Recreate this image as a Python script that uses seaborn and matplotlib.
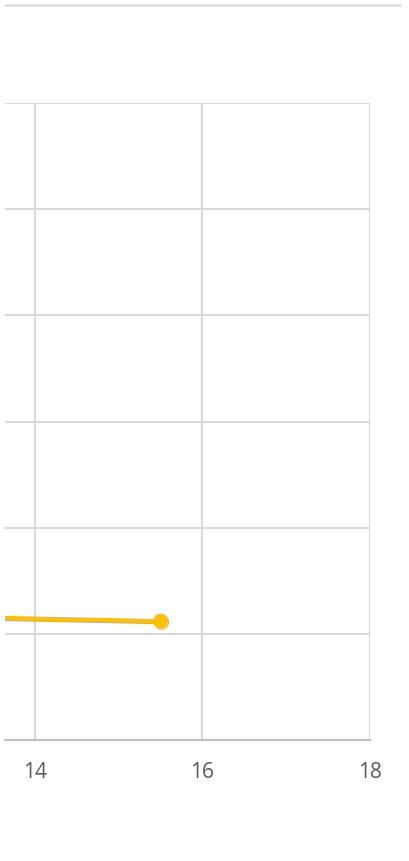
import pandas as pd
import seaborn as sns
import matplotlib.pyplot as plt
import matplotlib.patheffects as pe
from matplotlib.lines import Line2D

# series values (left part of the line runs off the visible area)
x_vals = [13.0, 15.5]
y_vals = [1.16, 1.12]
x_ticks = [14, 16, 18]
y_ticks = [0, 1, 2, 3, 4, 5, 6]

df = pd.DataFrame({'x': x_vals, 'y': y_vals})

sns.set_theme(style="white")
plt.rcParams['font.family'] = ['Open Sans', 'DejaVu Sans']

W, H = 409, 861
fig = plt.figure(figsize=(W / 100, H / 100), dpi=100)
ax = fig.add_axes([5 / W, 1 - 740 / H, 365 / W, (740 - 103) / H])

shadow = [pe.SimpleLineShadow(offset=(0.8, -0.8), shadow_color='#7f7f7f', alpha=0.6), pe.Normal()]
sns.lineplot(data=df, x='x', y='y', ax=ax, color='#FFC000', linewidth=3,
             marker='o', markersize=10, markeredgecolor='#FFC000',
             path_effects=shadow, clip_on=True)

ax.set_xlim(13.642, 18)
ax.set_ylim(0, 6)
ax.set_xticks(x_ticks)
ax.set_yticks(y_ticks)
ax.set_yticklabels([])
ax.set_xlabel('')
ax.set_ylabel('')
ax.grid(True, color='#d9d9d9', linewidth=1.5)
ax.set_axisbelow(True)
for s in ['left', 'top', 'right']:
    ax.spines[s].set_visible(False)
ax.spines['bottom'].set_color('#bfbfbf')
ax.spines['bottom'].set_linewidth(1.5)
ax.tick_params(axis='x', length=0, pad=16, labelsize=15, labelcolor='#595959')
ax.tick_params(axis='y', length=0)

# thin separator line at the top of the figure
fig.add_artist(Line2D([5 / W, 400 / W], [1 - 5 / H, 1 - 5 / H],
                      transform=fig.transFigure, color='#d9d9d9', linewidth=1.8))

fig.savefig('out.png', dpi=100)
